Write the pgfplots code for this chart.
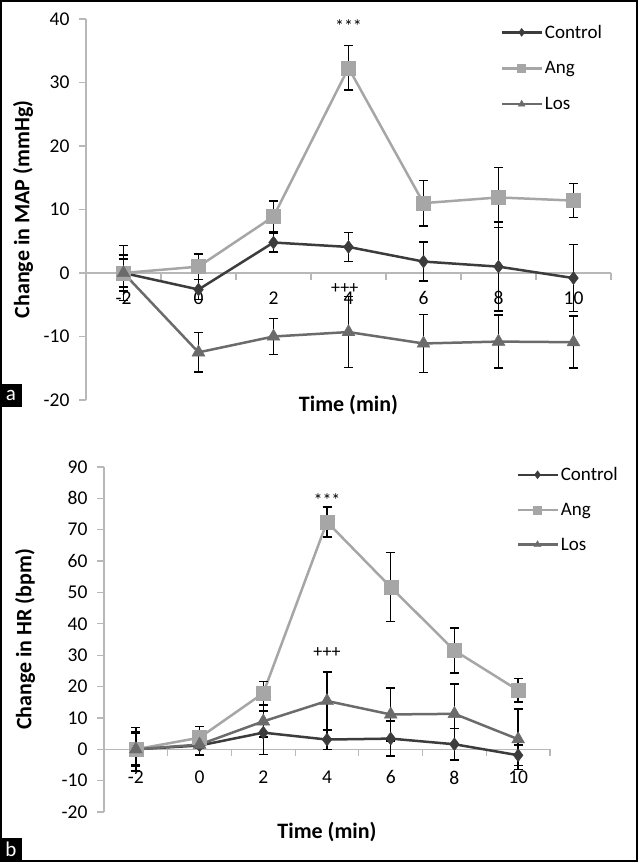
\documentclass[border=0pt]{standalone}
\usepackage{fontspec}
\setmainfont{Carlito}
\usepackage{pgfplots}
\pgfplotsset{compat=1.18}
\definecolor{cctrl}{HTML}{3C3C3C}
\definecolor{cang}{HTML}{A6A6A6}
\definecolor{clos}{HTML}{6B6B6B}
\definecolor{caxis}{HTML}{B8B8B8}
\pgfplotsset{
  panel/.style={
    scale only axis, anchor=south west,
    axis x line*=middle, axis y line*=left,
    xmin=-3, xmax=11,
    xtick={-2,0,...,10}, minor xtick={-1,1,...,11},
    major x tick style={draw=none},
    minor x tick style={caxis, line width=1.2pt},
    minor tick length=7pt,
    major tick length=7pt,
    y tick style={caxis, line width=1.2pt},
    tick align=outside,
    axis line style={caxis, line width=1.5pt},
    tick label style={font=\fontsize{19.5}{22}\selectfont, black},
    xticklabel style={yshift=-8pt},
    yticklabel style={xshift=-6pt},
    /pgf/number format/assume math mode=true,
    clip=false,
    legend cell align=left,
    legend image code/.code={
      \draw[##1] (0pt,0pt) -- (40pt,0pt);
      \draw[##1, mark size=4pt] plot coordinates {(20pt,0pt)};
    },
  },
  ctrl/.style={cctrl, line width=2.5pt, mark=diamond*, mark size=6.5pt, mark options={solid, fill=cctrl, draw=cctrl, line width=0.4pt}},
  ang/.style={cang, line width=2.5pt, mark=square*, mark size=7pt, mark options={solid, fill=cang, draw=cang, line width=0.4pt}},
  los/.style={clos, line width=2.5pt, mark=triangle*, mark size=7.5pt, mark options={solid, fill=clos, draw=clos, line width=0.4pt}},
  eb/.style={error bars/.cd, y dir=both, y explicit, error bar style={black, line width=1.5pt}, error mark options={rotate=90, black, line width=1.5pt, mark size=4.5pt}},
}
\begin{document}
\begin{tikzpicture}
\useasboundingbox (0,0) rectangle (639pt,862pt);
% Panel a
\begin{axis}[panel,
  at={(86pt,462pt)}, width=525pt, height=381pt,
  ymin=-20, ymax=40, ytick={-20,-10,...,40},
  xlabel={Time (min)}, ylabel={Change in MAP (mmHg)},
  every axis x label/.style={at={(axis description cs:0.5,-0.013)}, anchor=center, font=\bfseries\fontsize{22}{26}\selectfont},
  every axis y label/.style={at={(axis description cs:-0.12,0.5)}, rotate=90, anchor=center, font=\bfseries\fontsize{22}{26}\selectfont},
  legend style={at={(axis description cs:0.789,0.99)}, anchor=north west, draw=none, fill=none, inner sep=0pt, row sep=18pt, font=\fontsize{19}{22}\selectfont},
]
\addplot[ctrl, eb] coordinates {(-2,0) +- (0,4.3) (0,-2.6) +- (0,1.6) (2,4.8) +- (0,1.5) (4,4.1) +- (0,2.3) (6,1.8) +- (0,3.1) (8,1.0) +- (0,7.0) (10,-0.8) +- (0,5.3)};
\addlegendentry{Control}
\addplot[ang, eb] coordinates {(-2,0) +- (0,2.2) (0,1.0) +- (0,2.0) (2,8.9) +- (0,2.4) (4,32.3) +- (0,3.5) (6,11.0) +- (0,3.6) (8,11.9) +- (0,4.7) (10,11.4) +- (0,2.7)};
\addlegendentry{Ang}
\addplot[los, eb] coordinates {(-2,0) +- (0,2.8) (0,-12.5) +- (0,3.1) (2,-10.0) +- (0,2.8) (4,-9.3) +- (0,5.6) (6,-11.1) +- (0,4.6) (8,-10.8) +- (0,4.2) (10,-10.9) +- (0,4.1)};
\addlegendentry{Los}
\node[anchor=base, font=\fontsize{18}{20}\selectfont] at (axis cs:4,37.9) {***};
\node[anchor=base, font=\fontsize{18}{20}\selectfont] at (axis cs:3.9,-3.2) {+++};
\end{axis}
% Panel b
\begin{axis}[panel,
  at={(104pt,50pt)}, width=446pt, height=345pt,
  ymin=-20, ymax=90, ytick={-20,-10,...,90},
  xticklabel style={yshift=-3pt},
  xlabel={Time (min)}, ylabel={Change in HR (bpm)},
  every axis x label/.style={at={(axis description cs:0.5,-0.058)}, anchor=center, font=\bfseries\fontsize{22}{26}\selectfont},
  every axis y label/.style={at={(axis description cs:-0.177,0.5)}, rotate=90, anchor=center, font=\bfseries\fontsize{22}{26}\selectfont},
  legend style={at={(axis description cs:0.924,1.005)}, anchor=north west, draw=none, fill=none, inner sep=0pt, row sep=17pt, font=\fontsize{19}{22}\selectfont},
]
\addplot[ctrl, eb] coordinates {(-2,0) +- (0,5.5) (0,1.2) +- (0,3.0) (2,5.3) +- (0,6.9) (4,3.1) +- (0,3.2) (6,3.4) +- (0,5.6) (8,1.6) +- (0,5.1) (10,-1.9) +- (0,3.2)};
\addlegendentry{Control}
\addplot[ang, eb] coordinates {(-2,0) +- (0,7.0) (0,3.7) +- (0,3.5) (2,17.9) +- (0,3.7) (4,72.5) +- (0,4.8) (6,51.7) +- (0,11.0) (8,31.5) +- (0,7.2) (10,18.8) +- (0,3.8)};
\addlegendentry{Ang}
\addplot[los, eb] coordinates {(-2,0) +- (0,5.0) (0,1.5) +- (0,3.5) (2,8.9) +- (0,5.0) (4,15.4) +- (0,9.3) (6,11.1) +- (0,8.5) (8,11.3) +- (0,9.5) (10,3.2) +- (0,9.6)};
\addlegendentry{Los}
\node[anchor=base, font=\fontsize{18}{20}\selectfont] at (axis cs:4,77.4) {***};
\node[anchor=base, font=\fontsize{18}{20}\selectfont] at (axis cs:4,29.3) {+++};
\end{axis}
% panel letters and frame
\fill[black] (0,455pt) rectangle (22pt,478pt);
\node[white, font=\fontsize{21}{21}\selectfont] at (11pt,466.5pt) {a};
\fill[black] (0,2pt) rectangle (22pt,24pt);
\node[white, font=\fontsize{21}{21}\selectfont] at (11pt,13pt) {b};
\draw[line width=2pt] (1pt,1pt) rectangle (637pt,861pt);
\end{tikzpicture}
\end{document}
